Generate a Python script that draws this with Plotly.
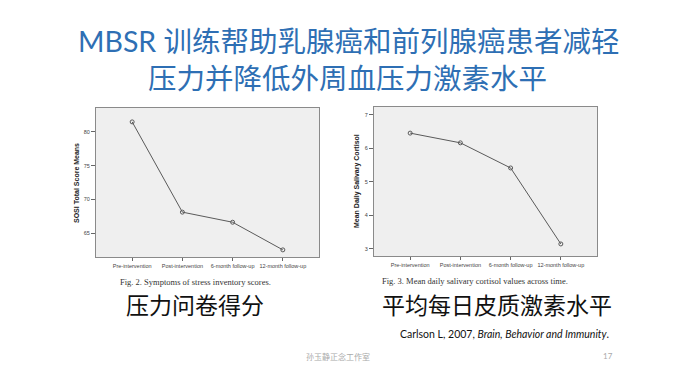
import plotly.graph_objects as go

# ---- data ----
categories = ["Pre-intervention", "Post-intervention", "6-month follow-up", "12-month follow-up"]
sosi_means = [81.5, 68.1, 66.6, 62.5]
cortisol_means = [6.45, 6.16, 5.41, 3.14]
sosi_ticks = [65, 70, 75, 80]
cortisol_ticks = [3, 4, 5, 6, 7]

title_line1 = "MBSR 训练帮助乳腺癌和前列腺癌患者减轻"
title_line2 = "压力并降低外周血压力激素水平"
sub_left = "压力问卷得分"
sub_right = "平均每日皮质激素水平"
cap_left = "Fig. 2. Symptoms of stress inventory scores."
cap_right = "Fig. 3. Mean daily salivary cortisol values across time."
citation = "Carlson L, 2007, <i>Brain, Behavior and Immunity</i>."
footer = "孙玉静正念工作室"
page_no = "17"

W, H = 683, 370
px = lambda x: x / W
py = lambda y: 1 - y / H

line_col = "#5a5a5a"
fig = go.Figure()
fig.add_trace(go.Scatter(x=categories, y=sosi_means, mode="lines+markers",
                         line=dict(color=line_col, width=1),
                         marker=dict(symbol="circle-open", size=4, color=line_col, line=dict(width=1)),
                         xaxis="x", yaxis="y", showlegend=False))
fig.add_trace(go.Scatter(x=categories, y=cortisol_means, mode="lines+markers",
                         line=dict(color=line_col, width=1),
                         marker=dict(symbol="circle-open", size=4, color=line_col, line=dict(width=1)),
                         xaxis="x2", yaxis="y2", showlegend=False))

tickfont = dict(family="Liberation Sans, Arial", size=5.5, color="#444")
common_x = dict(type="category", range=[-0.72, 3.72], showgrid=False, zeroline=False,
                showline=True, linecolor="#8a8a8a", linewidth=1, mirror=True,
                ticks="outside", ticklen=3, tickcolor="#666", tickfont=tickfont,
                tickangle=0)
common_y = dict(showgrid=False, zeroline=False, showline=True, linecolor="#8a8a8a",
                linewidth=1, mirror=True, ticks="outside", ticklen=4, tickcolor="#666",
                tickfont=tickfont)

fig.update_layout(
    width=W, height=H, margin=dict(l=0, r=0, t=0, b=0),
    paper_bgcolor="white", plot_bgcolor="#efefef",
    xaxis=dict(domain=[px(88), px(311)], anchor="y", **common_x),
    yaxis=dict(domain=[py(249), py(100)], anchor="x", range=[61.44, 83.56],
               tickvals=sosi_ticks, **common_y),
    xaxis2=dict(domain=[px(366), px(589)], anchor="y2", **common_x),
    yaxis2=dict(domain=[py(248), py(99)], anchor="x2", range=[2.78, 7.23],
                tickvals=cortisol_ticks, **common_y),
)

def ann(text, x, y, size, color, family, xanchor="center", angle=0, bold=False):
    if bold:
        text = "<b>" + text + "</b>"
    fig.add_annotation(text=text, x=px(x), y=py(y), xref="paper", yref="paper",
                       showarrow=False, xanchor=xanchor, yanchor="middle",
                       textangle=angle, font=dict(size=size, color=color, family=family))

title_font = "Lato, Noto Sans CJK SC"
ann(title_line1, 341, 33, 28.5, "#2e6fb4", title_font)
ann(title_line2, 339, 70, 28.5, "#2e6fb4", title_font)

ann("SOSI Total Score Means", 68, 175, 7, "#222", "Liberation Sans, Arial", angle=-90, bold=True)
ann("Mean Daily Salivary Cortisol", 349, 173, 7, "#222", "Liberation Sans, Arial", angle=-90, bold=True)

ann(cap_left, 187, 274, 8.5, "#333", "Liberation Serif, Times New Roman")
ann(cap_right, 467, 273, 8.5, "#333", "Liberation Serif, Times New Roman")

ann(sub_left, 187, 296, 23, "#111", "Noto Sans CJK SC")
ann(sub_right, 489, 296, 23, "#111", "Noto Sans CJK SC")

ann(citation, 496, 326, 10.5, "#111", "Lato, Open Sans")
ann(footer, 330, 348, 8, "#aaaaaa", "Noto Sans CJK SC")
ann(page_no, 600, 348, 8, "#aaaaaa", "Lato")

fig.write_html("out.html")
